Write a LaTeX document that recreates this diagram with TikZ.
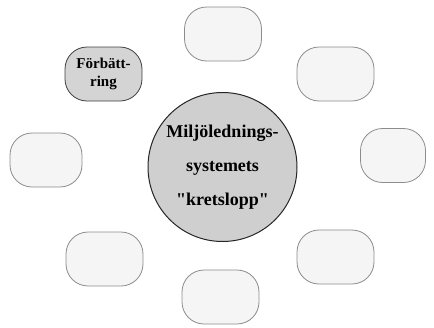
\documentclass[tikz,border=0pt]{standalone}
\usepackage{fontspec}
\setmainfont{Liberation Serif}[Ligatures=TeXOff]
\begin{document}
\begin{tikzpicture}[x=1pt,y=-1pt,
  slot/.style={draw=black!45, line width=0.8pt, fill=black!4,
    rounded corners=22pt, minimum width=77pt, minimum height=54pt,
    inner sep=0pt},
  hub/.style={circle, draw=black!85, line width=1pt, fill=black!19,
    minimum size=149pt, inner sep=0pt, align=center,
    font=\bfseries\fontsize{18}{34}\selectfont},
  active/.style={slot, draw=black!75, fill=black!17,
    align=center, font=\bfseries\fontsize{15}{18}\selectfont}]
  \useasboundingbox (0,0) rectangle (434,327);
  \node[hub] (center) at (222.5,167)
    {Miljölednings-\\systemets\\"kretslopp"};
  \node[active] (improve) at (103.5,74) {Förbätt-\\ring};
  \node[slot] (top) at (223,34) {};
  \node[slot] (topright) at (335.5,74) {};
  \node[slot, minimum width=65pt] (right) at (393,155.5) {};
  \node[slot] (bottomright) at (335.5,257) {};
  \node[slot] (bottom) at (220.5,297) {};
  \node[slot] (bottomleft) at (104.5,259) {};
  \node[slot, minimum width=72pt] (left) at (46,160) {};
\end{tikzpicture}
\end{document}
